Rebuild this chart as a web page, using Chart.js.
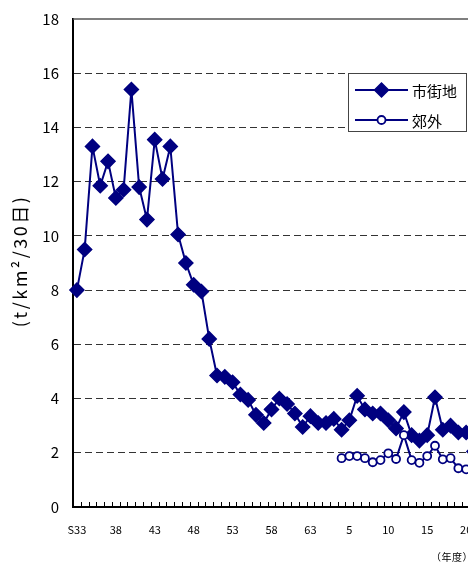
<!DOCTYPE html>
<html>
<head>
<meta charset="utf-8">
<script src="https://cdn.jsdelivr.net/npm/chart.js@4.4.1/dist/chart.umd.min.js"></script>
<style>
    html, body { margin: 0; padding: 0; background: #fff; overflow: hidden; }
    #wrap { position: relative; width: 490px; height: 565px; }
    #chart { display: block; }
    #unit { position: absolute; left: 431px; top: 549px; font: 10px 'Noto Sans CJK JP'; letter-spacing: 0.5px; color: #000; white-space: nowrap; }
</style>
</head>
<body>
<div id="wrap">
    <canvas id="chart" width="490" height="565"></canvas>
    <div id="unit">（年度）</div>
</div>
<script>
// fiscal years S33 .. S63, H1 .. H21
const years = [
    'S33','S34','S35','S36','S37','S38','S39','S40','S41','S42',
    'S43','S44','S45','S46','S47','S48','S49','S50','S51','S52',
    'S53','S54','S55','S56','S57','S58','S59','S60','S61','S62',
    'S63','H1','H2','H3','H4','H5','H6','H7','H8','H9',
    'H10','H11','H12','H13','H14','H15','H16','H17','H18','H19',
    'H20','H21'
];
const tickLabels = ['S33', '38', '43', '48', '53', '58', '63', '5', '10', '15', '20'];

// 市街地
const urban = [
    8.0, 9.5, 13.3, 11.85, 12.75, 11.4, 11.7, 15.4, 11.8, 10.6,
    13.55, 12.1, 13.3, 10.05, 9.0, 8.2, 7.95, 6.2, 4.85, 4.8,
    4.6, 4.15, 3.95, 3.4, 3.1, 3.6, 4.0, 3.8, 3.45, 2.95,
    3.35, 3.1, 3.1, 3.25, 2.85, 3.2, 4.1, 3.6, 3.45, 3.45,
    3.2, 2.9, 3.5, 2.65, 2.45, 2.65, 4.05, 2.85, 3.0, 2.75,
    2.75, 2.05
];
// 郊外 (from H4)
const suburb = [
    null, null, null, null, null, null, null, null, null, null,
    null, null, null, null, null, null, null, null, null, null,
    null, null, null, null, null, null, null, null, null, null,
    null, null, null, null, 1.8, 1.88, 1.88, 1.8, 1.65, 1.73,
    1.98, 1.77, 2.65, 1.73, 1.63, 1.88, 2.26, 1.76, 1.8, 1.43,
    1.39, 1.15
];

const yTitle = '(t/km²/30日)';
const navy = '#000080';
const jpFont = "'Noto Sans CJK JP', sans-serif";
const numFont = "'Liberation Sans Narrow', 'Noto Sans CJK JP', sans-serif";

const framePlugin = {
    id: 'frame',
    beforeDatasetsDraw(chart) {
        const { ctx, chartArea } = chart;
        const xs = chart.scales.x;
        ctx.save();
        // solid top frame
        ctx.strokeStyle = '#555';
        ctx.lineWidth = 1.5;
        ctx.beginPath();
        ctx.moveTo(chartArea.left, chartArea.top);
        ctx.lineTo(chartArea.right, chartArea.top);
        ctx.stroke();
        // small inward ticks between categories
        ctx.strokeStyle = '#000';
        ctx.lineWidth = 1;
        ctx.beginPath();
        for (let i = 0; i <= years.length; i++) {
            const x = Math.round(xs.getPixelForValue(i - 0.5)) + 0.5;
            ctx.moveTo(x, chartArea.bottom - 1);
            ctx.lineTo(x, chartArea.bottom - 5);
        }
        ctx.stroke();
        // y axis title, a bit spaced out
        ctx.translate(20, (chartArea.top + chartArea.bottom) / 2 - 2);
        ctx.rotate(-Math.PI / 2);
        ctx.font = '18px ' + jpFont;
        ctx.letterSpacing = '2.5px';
        ctx.fillStyle = '#000';
        ctx.textAlign = 'center';
        ctx.textBaseline = 'middle';
        ctx.fillText(yTitle, 0, 0);
        ctx.restore();
    },
    afterDraw(chart) {
        const { ctx } = chart;
        const box = { x: 348.5, y: 73.5, w: 118, h: 58 };
        ctx.save();
        ctx.fillStyle = '#fff';
        ctx.fillRect(box.x, box.y, box.w, box.h);
        ctx.strokeStyle = '#444';
        ctx.lineWidth = 1;
        ctx.strokeRect(box.x, box.y, box.w, box.h);

        const rows = [
            { label: '市街地', y: 90, style: 'rectRot', radius: 7, bw: 1.5, fill: navy },
            { label: '郊外', y: 120, style: 'circle', radius: 4, bw: 1.8, fill: '#fff' }
        ];
        rows.forEach(r => {
            ctx.strokeStyle = navy;
            ctx.lineWidth = 2;
            ctx.beginPath();
            ctx.moveTo(355, r.y);
            ctx.lineTo(408, r.y);
            ctx.stroke();
            ctx.fillStyle = r.fill;
            ctx.strokeStyle = navy;
            ctx.lineWidth = r.bw;
            Chart.helpers.drawPoint(ctx, { pointStyle: r.style, radius: r.radius, borderWidth: r.bw, rotation: 0 }, 381.5, r.y);
            ctx.fillStyle = '#000';
            ctx.font = '15px ' + jpFont;
            ctx.textBaseline = 'middle';
            ctx.textAlign = 'left';
            ctx.fillText(r.label, 412, r.y + 1);
        });
        ctx.restore();
    }
};

new Chart(document.getElementById('chart'), {
    type: 'line',
    data: {
        labels: years,
        datasets: [
            {
                label: '郊外',
                data: suburb,
                order: 0,
                borderColor: navy,
                borderWidth: 2,
                pointStyle: 'circle',
                pointRadius: 4,
                pointBorderWidth: 1.8,
                pointBackgroundColor: '#fff',
                pointBorderColor: navy,
                tension: 0
            },
            {
                label: '市街地',
                data: urban,
                order: 1,
                borderColor: navy,
                borderWidth: 2,
                pointStyle: 'rectRot',
                pointRadius: 7,
                pointBorderWidth: 1.5,
                pointBackgroundColor: navy,
                pointBorderColor: navy,
                tension: 0
            }
        ]
    },
    options: {
        responsive: false,
        animation: false,
        layout: { padding: { top: 19, right: 4, left: 0, bottom: 0 } },
        plugins: {
            legend: { display: false },
            tooltip: { enabled: false }
        },
        scales: {
            x: {
                type: 'category',
                offset: true,
                grid: { drawOnChartArea: false, drawTicks: false },
                border: { color: '#000', width: 2 },
                ticks: {
                    autoSkip: false,
                    maxRotation: 0,
                    padding: 16,
                    color: '#000',
                    font: { size: 11, family: numFont },
                    callback: (v, i) => (i % 5 === 0 ? tickLabels[i / 5] : '')
                },
                afterFit: s => { s.height = 58; }
            },
            y: {
                min: 0,
                max: 18,
                ticks: {
                    stepSize: 2,
                    padding: 14,
                    color: '#000',
                    font: { size: 15, family: numFont }
                },
                grid: {
                    drawTicks: false,
                    lineWidth: 1,
                    color: c => (c.tick && c.tick.value === 18 ? 'rgba(0,0,0,0)' : '#333')
                },
                border: { color: '#000', width: 2, dash: [7, 4] },
                afterFit: s => { s.width = 73; s.paddingTop = 8; }
            }
        }
    },
    plugins: [framePlugin]
});
</script>
</body>
</html>
